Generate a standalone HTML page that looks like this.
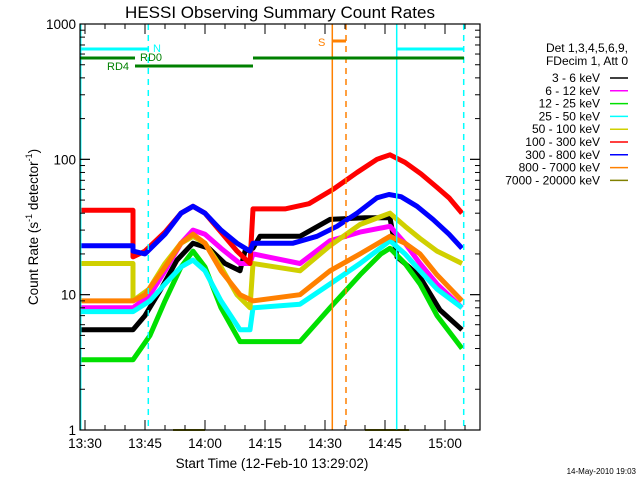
<!DOCTYPE html>
<html><head><meta charset="utf-8"><style>
body{margin:0;background:#fff}
svg{display:block;font-family:"Liberation Sans",sans-serif}
</style></head><body>
<svg id="c" width="640" height="480" viewBox="0 0 640 480">
<text x="280" y="18" font-size="17" text-anchor="middle">HESSI Observing Summary Count Rates</text>
<g id="plot"></g>
<g id="axes"></g>
<text x="272" y="468" font-size="13.5" text-anchor="middle">Start Time (12-Feb-10 13:29:02)</text>
<text transform="translate(38,227) rotate(-90)" font-size="13.5" text-anchor="middle">Count Rate (s<tspan font-size="9" dy="-6">-1</tspan><tspan dy="6"> detector</tspan><tspan font-size="9" dy="-6">-1</tspan><tspan dy="6">)</tspan></text>
<text x="636" y="474" font-size="8" text-anchor="end">14-May-2010 19:03</text>
<g id="legend">
<text x="628" y="52" font-size="12" text-anchor="end">Det 1,3,4,5,6,9,</text>
<text x="628" y="65" font-size="12" text-anchor="end">FDecim 1, Att 0</text>
</g>
</svg>
<script>
const categories=["3 - 6 keV","6 - 12 keV","12 - 25 keV","25 - 50 keV","50 - 100 keV","100 - 300 keV","300 - 800 keV","800 - 7000 keV","7000 - 20000 keV"];
const colors=["#000000","#ff00ff","#00e000","#00ffff","#d0d000","#ff0000","#0000ff","#ff8000","#808000"];
// times in minutes after 13:30
const tBlack=[-1,12,12,15,19,23,27,31,35,38.75,40,42,43.75,53.75,61.25,70,76.25,78,81,83.75,88.75,94.25];
const vBlack=[5.5,5.5,5.5,7,11,18,24,22,17,15,21,22,27,27,36,37,37,19,16,13.5,7.7,5.5];
const tMag=[-1,12,16.25,20,24,27,30,34,38.75,41.25,42,53.75,61.25,68.75,76.25,80,83.75,88,94.25];
const vMag=[8,8,10,15,24,30,28,22,17,17,20,17,25,29,32,24,17,12,8];
const tGreen=[-1,12,16.25,20,24,27,30,34,38.75,42,53.75,61.25,68.75,74,76.25,80,83.75,88,94.25];
const vGreen=[3.3,3.3,5,9,16,21,16,8,4.5,4.5,4.5,8,14,20,22,17,12,7,4];
const tCyan=[-1,12,16.25,20,24,27,30,34,38.75,41.25,42,53.75,61.25,68.75,76.25,80,83.75,88,94.25];
const vCyan=[7.5,7.5,9,12,16,18,15,9,5.5,5.5,8,8.5,12,17,25,20,15,11,8];
const tYel=[-1,12,12,16,20,24,27,30,34,38,41.25,42,53.75,61.25,68.75,76.25,80,83.75,88,94.25];
const vYel=[17,17,9,11,17,24,27,24,16,10,8,17,15,23,33,40,32,26,21,17];
const tRed=[-1,12,12,15,20,24,27,30,34,38,41.25,42,50,56,62,68,73,76.25,80,84,88,91,94.25];
const vRed=[42,42,19,21,29,40,45,40,29,21,17,43,43,47,60,80,100,108,95,78,62,52,40];
const tBlue=[-1,12,12,15,20,24,27,30,34,38,41.25,42,52,58,63,68,73,76,79,83,87,91,94.25];
const vBlue=[23,23,21,20,28,40,45,40,30,24,21,24,24,27,32,40,52,55,53,45,36,28,22];
const tOra=[-1,12,15,20,24,27,30,34,38.75,42,53.75,61.25,68.75,76.25,80,83.75,88,94.25];
const vOra=[9,9,10,16,24,28,24,15,10,9,10,15,20,27,24,20,14,9];
const tOlive=[22,30,30.01,70,81];
const vOlive=[1,1,null,1,1];
const series=[[tBlack,vBlack],[tMag,vMag],[tGreen,vGreen],[tCyan,vCyan],[tYel,vYel],[tRed,vRed],[tBlue,vBlue],[tOra,vOra],[tOlive,vOlive]];
const xTicks=["13:30","13:45","14:00","14:15","14:30","14:45","15:00"];
const yTicks=[1,10,100,1000];

const NS="http://www.w3.org/2000/svg";
const L=80,R=480,T=24,B=430;
const X=t=>85+4*t;
const Y=v=>B-135.33*Math.log10(v);
function mk(tag,attrs,parent){const e=document.createElementNS(NS,tag);for(const k in attrs)e.setAttribute(k,attrs[k]);parent.appendChild(e);return e;}
const plot=document.getElementById('plot'),axes=document.getElementById('axes'),leg=document.getElementById('legend');

series.forEach((s,i)=>{
  let d="",pen=false;
  s[0].forEach((t,j)=>{const v=s[1][j];if(v==null){pen=false;return;}d+=(pen?"L":"M")+X(t).toFixed(1)+","+Math.min(B,Y(v)).toFixed(1);pen=true;});
  const p=mk('path',{d:d,fill:'none',stroke:colors[i],'stroke-width':i==8?2:5,'stroke-linejoin':'round'},plot);
  
  
});

const vl=[[80.7,'#00ffff',0],[148.3,'#00ffff',1],[332.3,'#ff8000',0],[346,'#ff8000',1],[396.7,'#00ffff',0],[463.7,'#00ffff',1]];
vl.forEach((m,i)=>{const e=mk('line',{x1:m[0],x2:m[0],y1:T,y2:B,stroke:m[1],'stroke-width':1.5,'stroke-dasharray':m[2]?'6,5':'none'},plot);

});
const bars=[[80,148,49,'#00ffff'],[396,464,49,'#00ffff'],[80,135,58,'#008000'],[253,464,58,'#008000'],[135,253,66,'#008000'],[332,346,41,'#ff8000']];
bars.forEach(b=>{const e=mk('line',{x1:b[0],x2:b[1],y1:b[2],y2:b[2],stroke:b[3],'stroke-width':3},plot);

});
const fl=[[153,52,'N','#00ffff'],[140,61,'RD0','#008000'],[107,70,'RD4','#008000'],[318,46,'S','#ff8000']];
fl.forEach(f=>{const e=mk('text',{x:f[0],y:f[1],fill:f[3],'font-size':11},plot);e.textContent=f[2];

});

const fr=mk('rect',{x:L,y:T,width:R-L,height:B-T,fill:'none',stroke:'#000','stroke-width':1.2},axes);


for(let t=-1;t<=99;t++){ if(t%5) continue; const x=X(t); if(x<L||x>R)continue; const maj=t%15==0;const h=maj?10:5;
  mk('line',{x1:x,x2:x,y1:B,y2:B-h,stroke:'#000'},axes);mk('line',{x1:x,x2:x,y1:T,y2:T+h,stroke:'#000'},axes);}
xTicks.forEach((s,i)=>{const e=mk('text',{x:X(i*15),y:448,'font-size':13.5,'text-anchor':'middle'},axes);e.textContent=s;

});
for(let dcd=0;dcd<3;dcd++)for(let m=1;m<=10;m++){const y=Y(m*Math.pow(10,dcd));const h=(m==1||m==10)?10:5;
  mk('line',{x1:L,x2:L+h,y1:y,y2:y,stroke:'#000'},axes);mk('line',{x1:R,x2:R-h,y1:y,y2:y,stroke:'#000'},axes);}
yTicks.forEach(v=>{const e=mk('text',{x:L-4,y:Y(v)+5,'font-size':13.5,'text-anchor':'end'},axes);e.textContent=String(v);

});
categories.forEach((c,i)=>{const y=78+i*12.8;
  const t=mk('text',{x:600,y:y+4,'font-size':12,'text-anchor':'end'},leg);t.textContent=c;
  
  
  const l=mk('line',{x1:610,x2:628,y1:y,y2:y,stroke:colors[i],'stroke-width':1.5},leg);
  
  });
</script>
</body></html>
